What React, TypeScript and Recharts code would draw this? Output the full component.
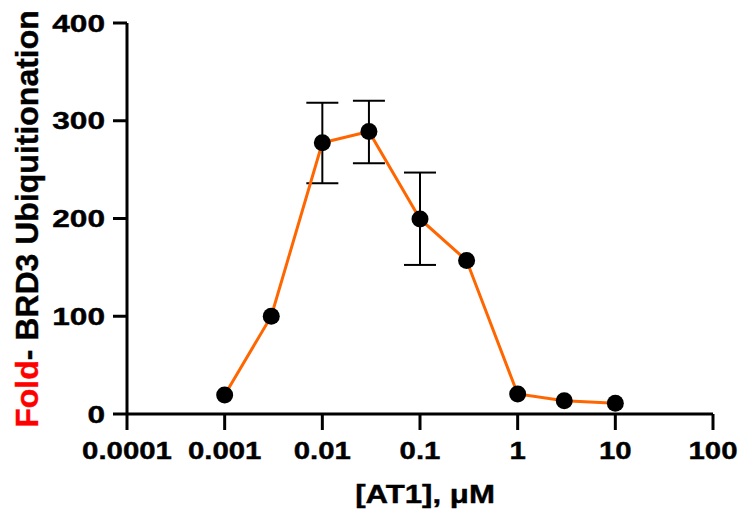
import React from 'react';
import { LineChart, Line, XAxis, YAxis, ErrorBar } from 'recharts';

const concentrations = [0.001, 0.003, 0.01, 0.03, 0.1, 0.3, 1, 3, 10];
const foldValues = [19.5, 100, 277.5, 289, 199.5, 157, 20.5, 13.6, 11];

// points that carry error bars (SD shown in the figure)
const errConcentrations = [0.01, 0.03, 0.1];
const errValues = [277.5, 289, 199.5];
const errLower = [41.5, 32.5, 47];
const errUpper = [41, 31.5, 47.5];

const xTicks = [0.0001, 0.001, 0.01, 0.1, 1, 10, 100];
const xTickLabels = ['0.0001', '0.001', '0.01', '0.1', '1', '10', '100'];
const yTicks = [0, 100, 200, 300, 400];

const FONT = '"Liberation Sans", Arial, Helvetica, sans-serif';

const mainData = concentrations.map((x, i) => ({ x, y: foldValues[i] }));
const errData = errConcentrations.map((x, i) => ({
  x,
  y: errValues[i],
  err: [errLower[i], errUpper[i]],
}));

const XTick = ({ x, y, payload }: any) => {
  const idx = xTicks.indexOf(payload.value);
  return (
    <text
      transform={`translate(${x},${y + 27}) scale(1.2,1)`}
      textAnchor="middle"
      fontFamily={FONT}
      fontWeight="bold"
      fontSize={24.5}
      stroke="#000"
      strokeWidth={0.4}
      fill="#000"
    >
      {idx >= 0 ? xTickLabels[idx] : String(payload.value)}
    </text>
  );
};

const YTick = ({ x, y, payload }: any) => (
  <text
    transform={`translate(${x - 6},${y + 8.5}) scale(1.32,1)`}
    textAnchor="end"
    fontFamily={FONT}
    fontWeight="bold"
    fontSize={24}
    stroke="#000"
    strokeWidth={0.4}
    fill="#000"
  >
    {payload.value}
  </text>
);

const YLabel = () => (
  <text
    transform="translate(38,219) rotate(-90)"
    textAnchor="middle"
    fontFamily={FONT}
    fontWeight="bold"
    fontSize={32}
    strokeWidth={0.4}
  >
    <tspan fill="#FF0000" stroke="#FF0000">Fold</tspan>
    <tspan fill="#000" stroke="#000">- BRD3 Ubiquitionation</tspan>
  </text>
);

const XLabel = () => (
  <text
    transform="translate(425,503) scale(1.2,1)"
    textAnchor="middle"
    fontFamily={FONT}
    fontWeight="bold"
    fontSize={26}
    stroke="#000"
    strokeWidth={0.4}
    fill="#000"
  >
    [AT1], μM
  </text>
);

export default function App() {
  return (
    <div style={{ position: 'absolute', left: 0, top: 0, background: '#fff' }}>
      <LineChart
        width={739}
        height={521}
        margin={{ top: 23, right: 26, left: 0, bottom: 47 }}
      >
        <XAxis
          type="number"
          dataKey="x"
          scale="log"
          domain={[0.0001, 100]}
          ticks={xTicks}
          allowDataOverflow
          height={60}
          tickSize={16}
          axisLine={{ stroke: '#000', strokeWidth: 3 }}
          tickLine={{ stroke: '#000', strokeWidth: 3 }}
          tick={<XTick />}
          label={<XLabel />}
        />
        <YAxis
          type="number"
          dataKey="y"
          domain={[0, 400]}
          ticks={yTicks}
          width={127}
          tickSize={14}
          axisLine={{ stroke: '#000', strokeWidth: 3 }}
          tickLine={{ stroke: '#000', strokeWidth: 3 }}
          tick={<YTick />}
          label={<YLabel />}
        />
        <Line
          data={errData}
          dataKey="y"
          stroke="none"
          dot={false}
          activeDot={false}
          isAnimationActive={false}
        >
          <ErrorBar
            dataKey="err"
            direction="y"
            width={16}
            stroke="#000"
            strokeWidth={2}
            isAnimationActive={false}
          />
        </Line>
        <Line
          data={mainData}
          dataKey="y"
          type="linear"
          stroke="#FF6600"
          strokeWidth={3}
          dot={{ r: 8.5, fill: '#000', stroke: 'none' }}
          activeDot={false}
          isAnimationActive={false}
        />
      </LineChart>
    </div>
  );
}
